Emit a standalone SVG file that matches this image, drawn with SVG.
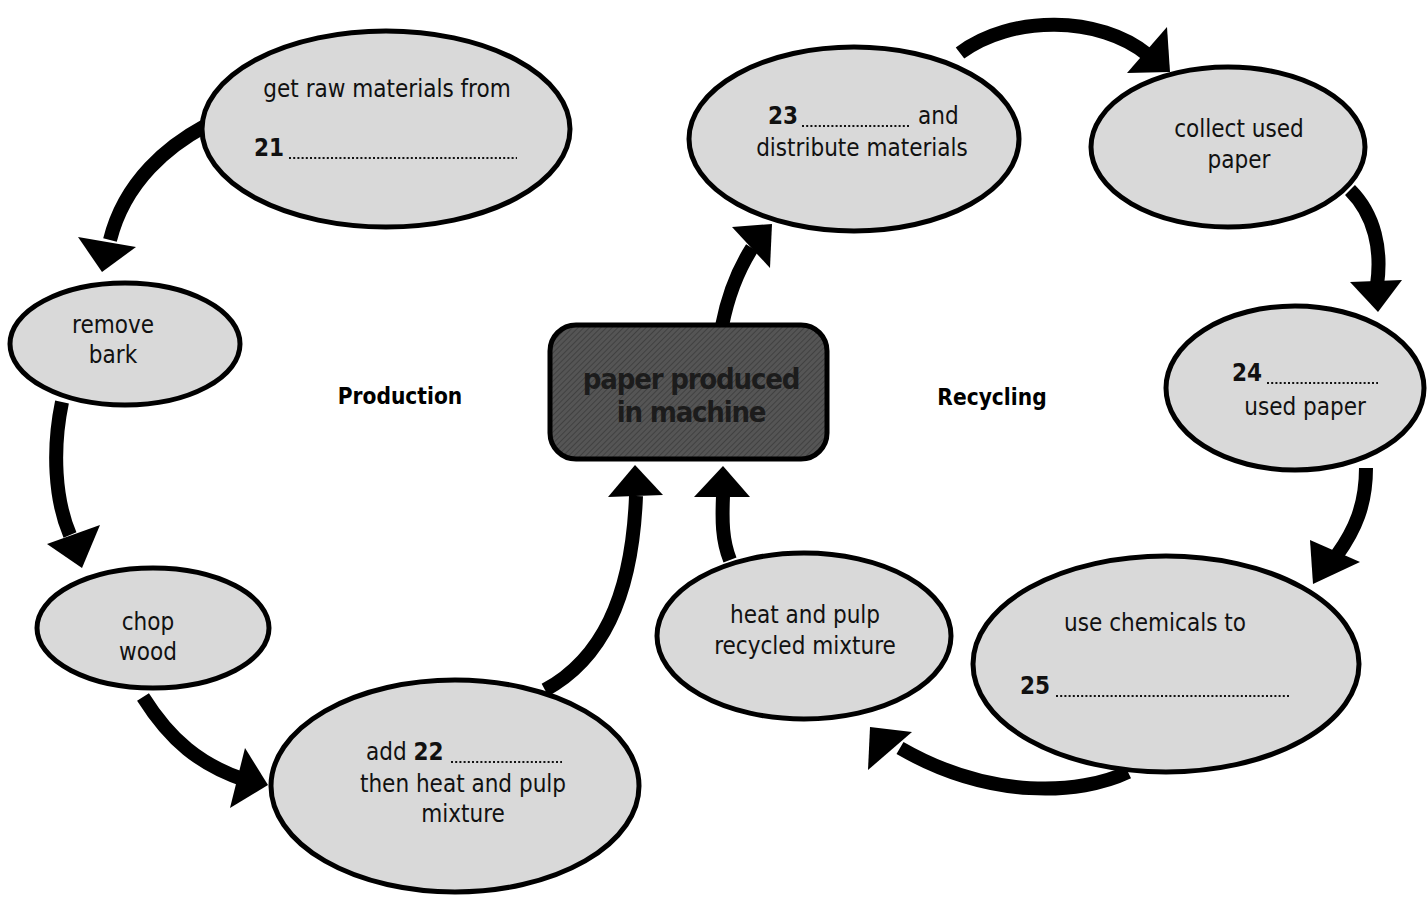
<svg xmlns="http://www.w3.org/2000/svg" width="1427" height="905" viewBox="0 0 1427 905">
<defs>
<style>
.node{fill:#d9d9d9;stroke:#000;stroke-width:5}
.t{font-family:"DejaVu Sans Condensed","DejaVu Sans","Liberation Sans",sans-serif;font-stretch:condensed;font-size:24px;fill:#111;text-anchor:middle}
.tl{text-anchor:start}
.b{font-weight:bold}
.dots{stroke:#111;stroke-width:2;stroke-dasharray:2 2.2}
.shaft{fill:none;stroke:#000;stroke-width:14}
.head{fill:#000}
.lbl{font-family:"DejaVu Sans Condensed","DejaVu Sans","Liberation Sans",sans-serif;font-stretch:condensed;font-weight:bold;font-size:22.5px;fill:#000;text-anchor:middle}
.ctr{font-family:"DejaVu Sans Condensed","DejaVu Sans","Liberation Sans",sans-serif;font-stretch:condensed;font-weight:bold;font-size:29px;letter-spacing:-1.2px;fill:#1c1c1c;text-anchor:middle}
</style>
<pattern id="hatch" width="4" height="4" patternUnits="userSpaceOnUse" patternTransform="rotate(45)">
<rect width="4" height="4" fill="#555"/>
<line x1="0" y1="0" x2="0" y2="4" stroke="#3a3a3a" stroke-width="1.5"/>
</pattern>
</defs>
<rect width="1427" height="905" fill="#fff"/>

<g id="connectors">
<path class="shaft" d="M205,126 C170,145 125,180 110,240"/>
<polygon class="head" points="78,237 136,247 102,272"/>
<path class="shaft" d="M62,402 C52,450 55,500 70,535"/>
<polygon class="head" points="47,544 100,525 82,568"/>
<path class="shaft" d="M143,697 C170,740 200,765 245,780"/>
<polygon class="head" points="245,748 230,808 268,785"/>
<path class="shaft" d="M545,690 C600,660 632,600 636,496"/>
<polygon class="head" points="608,497 663,495 635,465"/>
<path class="shaft" d="M730,560 C722,540 722,520 723,496"/>
<polygon class="head" points="694,497 750,497 723,466"/>
<path class="shaft" d="M722,326 C728,295 738,270 752,248"/>
<polygon class="head" points="732,227 770,268 772,224"/>
<path class="shaft" d="M960,53 C1010,15 1100,15 1148,55"/>
<polygon class="head" points="1167,27 1127,73 1170,72"/>
<path class="shaft" d="M1350,190 C1375,215 1382,250 1377,285"/>
<polygon class="head" points="1350,282 1402,280 1378,312"/>
<path class="shaft" d="M1366,468 C1366,505 1355,530 1337,555"/>
<polygon class="head" points="1310,540 1360,562 1313,584"/>
<path class="shaft" d="M1128,772 C1080,795 990,800 900,748"/>
<polygon class="head" points="870,727 912,732 868,770"/>
</g>

<g id="n21">
<ellipse class="node" cx="386" cy="129" rx="184" ry="98"/>
<text class="t" x="387" y="97">get raw materials from</text>
<text class="t tl b" x="254" y="156">21</text>
<line class="dots" x1="289" y1="158" x2="517" y2="158"/>
</g>

<g id="remove-bark">
<ellipse class="node" cx="125" cy="344" rx="115" ry="61"/>
<text class="t" x="113" y="333">remove</text>
<text class="t" x="113" y="363">bark</text>
</g>

<g id="chop-wood">
<ellipse class="node" cx="153" cy="628" rx="116" ry="60"/>
<text class="t" x="148" y="630">chop</text>
<text class="t" x="148" y="660">wood</text>
</g>

<g id="n22">
<ellipse class="node" cx="455" cy="786" rx="184" ry="106"/>
<text class="t tl" x="366" y="760">add <tspan class="b">22</tspan></text>
<line class="dots" x1="451" y1="762" x2="562" y2="762"/>
<text class="t" x="463" y="792">then heat and pulp</text>
<text class="t" x="463" y="822">mixture</text>
</g>

<g id="center">
<rect x="550" y="325" width="277" height="134" rx="26" ry="26" fill="url(#hatch)" stroke="#000" stroke-width="5"/>
<text class="ctr" x="691" y="389">paper produced</text>
<text class="ctr" x="691" y="422">in machine</text>
</g>

<g id="heat-pulp">
<ellipse class="node" cx="804" cy="636" rx="147" ry="83"/>
<text class="t" x="805" y="623">heat and pulp</text>
<text class="t" x="805" y="654">recycled mixture</text>
</g>

<g id="n25">
<ellipse class="node" cx="1166" cy="664" rx="193" ry="108"/>
<text class="t" x="1155" y="631">use chemicals to</text>
<text class="t tl b" x="1020" y="694">25</text>
<line class="dots" x1="1056" y1="696" x2="1289" y2="696"/>
</g>

<g id="n24">
<ellipse class="node" cx="1295" cy="388" rx="129" ry="82"/>
<text class="t tl b" x="1232" y="381">24</text>
<line class="dots" x1="1267" y1="383" x2="1378" y2="383"/>
<text class="t" x="1305" y="415">used paper</text>
</g>

<g id="collect">
<ellipse class="node" cx="1228" cy="147" rx="137" ry="80"/>
<text class="t" x="1239" y="137">collect used</text>
<text class="t" x="1239" y="168">paper</text>
</g>

<g id="n23">
<ellipse class="node" cx="854" cy="139" rx="165" ry="92"/>
<text class="t tl b" x="768" y="124">23</text>
<line class="dots" x1="802" y1="126" x2="910" y2="126"/>
<text class="t tl" x="918" y="124">and</text>
<text class="t" x="862" y="156">distribute materials</text>
</g>

<g id="labels">
<text class="lbl" x="400" y="404">Production</text>
<text class="lbl" x="992" y="405">Recycling</text>
</g>
</svg>
